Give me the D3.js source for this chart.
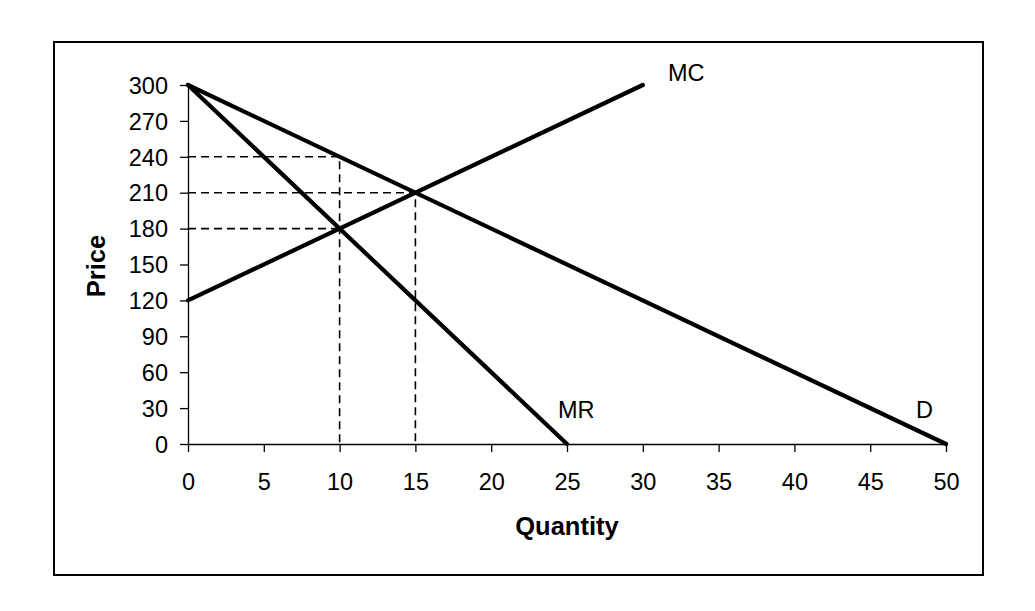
<!DOCTYPE html>
<html><head><meta charset="utf-8">
<script src="https://cdn.jsdelivr.net/npm/d3@7"></script>
<style>body{margin:0;background:#fff}svg{display:block}text{font-family:Arial,"Liberation Sans",sans-serif;fill:#000}</style>
</head><body><svg id="c" width="1035" height="611"></svg>
<script>
const xTicks = [0,5,10,15,20,25,30,35,40,45,50];
const yTicks = [0,30,60,90,120,150,180,210,240,270,300];
const demand = [[0,300],[50,0]];
const mr = [[0,300],[25,0]];
const mc = [[0,120],[30,300]];
const dashed = [
  [[0,240],[10,240],[10,0]],
  [[0,210],[15,210],[15,0]],
  [[0,180],[10,180]]
];
const curveLabels = [{t:"MC",x:668,y:81},{t:"MR",x:558,y:418},{t:"D",x:916,y:418}];

const svg = d3.select("#c");
svg.append("rect").attr("x",54).attr("y",42).attr("width",929).attr("height",533)
  .attr("fill","none").attr("stroke","#000").attr("stroke-width",2);

const x = d3.scaleLinear().domain([0,50]).range([188,946]);
const y = d3.scaleLinear().domain([0,300]).range([444,85]);

const xa = svg.append("g").attr("transform","translate(0,444)")
  .call(d3.axisBottom(x).tickValues(xTicks).tickSize(8).tickPadding(21).tickSizeOuter(0));
const ya = svg.append("g").attr("transform","translate(188,0)")
  .call(d3.axisLeft(y).tickValues(yTicks).tickSize(8).tickPadding(12).tickSizeOuter(0));
[xa,ya].forEach(g=>{
  g.selectAll("path,line").attr("stroke","#000").attr("stroke-width",1.3);
  g.selectAll("text").attr("font-size",23.5).attr("font-family","Arial, 'Liberation Sans', sans-serif");
});
ya.selectAll("text").attr("dy","0.35em");

const line = d3.line().x(d=>x(d[0])).y(d=>y(d[1]));
dashed.forEach(d=>svg.append("path").attr("d",line(d)).attr("fill","none")
  .attr("stroke","#000").attr("stroke-width",1.6).attr("stroke-dasharray","8,5"));
[demand,mr,mc].forEach(d=>svg.append("path").attr("d",line(d)).attr("fill","none")
  .attr("stroke","#000").attr("stroke-width",4.2).attr("stroke-linecap","round"));

curveLabels.forEach(l=>svg.append("text").attr("x",l.x).attr("y",l.y).attr("font-size",23.5).text(l.t));

svg.append("text").attr("x",567).attr("y",535).attr("text-anchor","middle")
  .attr("font-size",25.5).attr("font-weight","bold").text("Quantity");
svg.append("text").attr("transform","translate(105,266) rotate(-90)").attr("text-anchor","middle")
  .attr("font-size",25.5).attr("font-weight","bold").text("Price");
</script></body></html>
